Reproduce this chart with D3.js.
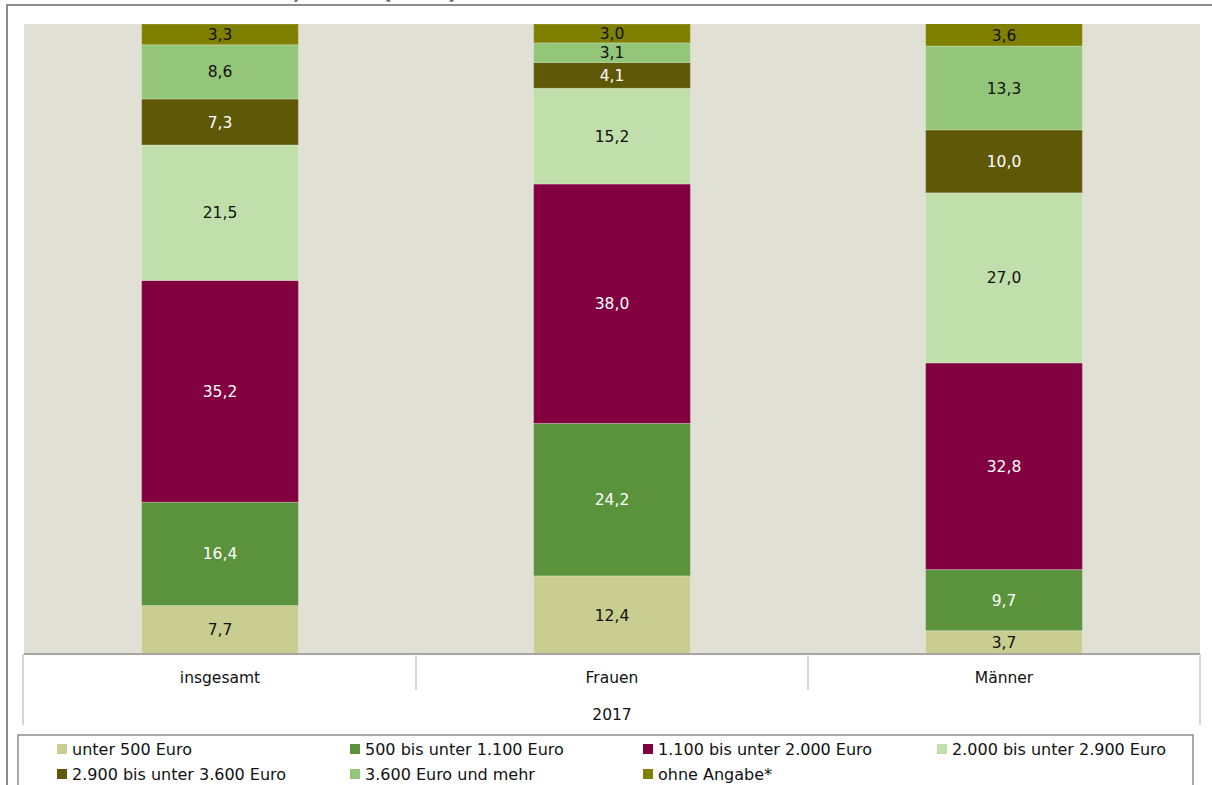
<!DOCTYPE html>
<html>
<head>
<meta charset="utf-8">
<script src="https://cdn.jsdelivr.net/npm/d3@7"></script>
<style>
  html, body { margin: 0; padding: 0; background: #fff; overflow: hidden; }
  svg { display: block; font-family: "DejaVu Sans", Verdana, sans-serif; }
</style>
</head>
<body>
<svg id="chart"></svg>
<script>
const categories = ["insgesamt", "Frauen", "Männer"];
const groupLabel = "2017";
const seriesNames = [
  "unter 500 Euro",
  "500 bis unter 1.100 Euro",
  "1.100 bis unter 2.000 Euro",
  "2.000 bis unter 2.900 Euro",
  "2.900 bis unter 3.600 Euro",
  "3.600 Euro und mehr",
  "ohne Angabe*"
];
// one array per series, in category order
const unter500 = [7.7, 12.4, 3.7];
const bis1100 = [16.4, 24.2, 9.7];
const bis2000 = [35.2, 38.0, 32.8];
const bis2900 = [21.5, 15.2, 27.0];
const bis3600 = [7.3, 4.1, 10.0];
const ab3600 = [8.6, 3.1, 13.3];
const ohneAngabe = [3.3, 3.0, 3.6];
const seriesValues = [unter500, bis1100, bis2000, bis2900, bis3600, ab3600, ohneAngabe];

const colors = ["#c9cd8f", "#5b923c", "#82003f", "#c0dfab", "#5f5907", "#93c678", "#808000"];
const labelColors = ["#111", "#fff", "#fff", "#111", "#fff", "#111", "#111"];

const W = 1212, H = 785;
const margin = { top: 24, left: 24, right: 12, bottom: 131 };
const plotBottom = H - margin.bottom; // 654

const svg = d3.select("#chart").attr("width", W).attr("height", H);

// outer frame
svg.append("rect")
  .attr("x", 7).attr("y", 5).attr("width", W + 20).attr("height", H + 20)
  .attr("fill", "none").attr("stroke", "#8c8c8c").attr("stroke-width", 2);

// title sits mostly above the visible area, as in the reference
svg.append("text")
  .attr("x", 458).attr("y", -1)
  .attr("text-anchor", "end")
  .attr("font-size", 23).attr("font-weight", "bold").attr("fill", "#6e6e6e")
  .text("Persönliches Nettoeinkommen, 2017 (in %)");

const x = d3.scaleBand()
  .domain(categories)
  .range([margin.left, W - margin.right])
  .padding(0);

const y = d3.scaleLinear()
  .domain([0, 100])
  .range([plotBottom, margin.top]);

const barW = x.bandwidth() * 0.4;

// plot background
svg.append("rect")
  .attr("x", margin.left).attr("y", margin.top)
  .attr("width", W - margin.right - margin.left)
  .attr("height", plotBottom - margin.top)
  .attr("fill", "#e0e1d4");

svg.append("clipPath").attr("id", "plotclip")
  .append("rect")
  .attr("x", margin.left).attr("y", margin.top)
  .attr("width", W - margin.right - margin.left)
  .attr("height", plotBottom - margin.top);

// stack data
const table = categories.map((c, i) => {
  const row = { cat: c };
  seriesNames.forEach((s, j) => { row[s] = seriesValues[j][i]; });
  return row;
});
const stacked = d3.stack().keys(seriesNames)(table);

const layers = svg.append("g").attr("clip-path", "url(#plotclip)")
  .selectAll("g.layer")
  .data(stacked)
  .join("g")
  .attr("class", "layer");

layers.each(function (layer, j) {
  const g = d3.select(this);
  g.selectAll("rect")
    .data(layer)
    .join("rect")
    .attr("x", d => x(d.data.cat) + (x.bandwidth() - barW) / 2)
    .attr("y", d => y(d[1]))
    .attr("width", barW)
    .attr("height", d => y(d[0]) - y(d[1]))
    .attr("fill", colors[j])
    .attr("stroke", "rgba(255,255,255,0.25)")
    .attr("stroke-width", 1);

  g.selectAll("text")
    .data(layer)
    .join("text")
    .attr("x", d => x(d.data.cat) + x.bandwidth() / 2)
    .attr("y", d => (y(d[0]) + y(Math.min(d[1], 100))) / 2)
    .attr("dy", "0.36em")
    .attr("text-anchor", "middle")
    .attr("font-size", 15.5)
    .attr("fill", labelColors[j])
    .text(d => d3.format(".1f")(d[1] - d[0]).replace(".", ","));
});

// category axis
const axisColor = "#a6a6a6";
const axis = svg.append("g");
axis.append("line")
  .attr("x1", margin.left).attr("x2", W - margin.right)
  .attr("y1", plotBottom).attr("y2", plotBottom)
  .attr("stroke", axisColor).attr("stroke-width", 2);

const innerTicks = categories.slice(1).map(c => x(c));
axis.selectAll("line.tick")
  .data(innerTicks)
  .join("line")
  .attr("class", "tick")
  .attr("x1", d => d).attr("x2", d => d)
  .attr("y1", plotBottom).attr("y2", plotBottom + 36)
  .attr("stroke", "#c8c8c8").attr("stroke-width", 1.5);

axis.selectAll("line.outer")
  .data([margin.left - 1, W - margin.right])
  .join("line")
  .attr("class", "outer")
  .attr("x1", d => d).attr("x2", d => d)
  .attr("y1", plotBottom).attr("y2", plotBottom + 71)
  .attr("stroke", "#c8c8c8").attr("stroke-width", 1.5);

axis.selectAll("text.cat")
  .data(categories)
  .join("text")
  .attr("class", "cat")
  .attr("x", d => x(d) + x.bandwidth() / 2)
  .attr("y", plotBottom + 29)
  .attr("text-anchor", "middle")
  .attr("font-size", 15.5)
  .attr("fill", "#111")
  .text(d => d);

axis.append("text")
  .attr("x", (margin.left + W - margin.right) / 2)
  .attr("y", plotBottom + 66)
  .attr("text-anchor", "middle")
  .attr("font-size", 15.5)
  .attr("fill", "#111")
  .text(groupLabel);

// legend
svg.append("rect")
  .attr("x", 18).attr("y", 735)
  .attr("width", 1175).attr("height", 80)
  .attr("fill", "#fff").attr("stroke", "#8c8c8c").attr("stroke-width", 1.5);

const legendCols = [57, 350, 643, 937];
const legend = svg.append("g")
  .selectAll("g")
  .data(seriesNames)
  .join("g")
  .attr("transform", (d, i) => `translate(${legendCols[i % 4]},${749 + Math.floor(i / 4) * 25})`);

legend.append("rect")
  .attr("x", 0).attr("y", -5)
  .attr("width", 10).attr("height", 10)
  .attr("fill", (d, i) => colors[i]);

legend.append("text")
  .attr("x", 15).attr("y", 0)
  .attr("dy", "0.36em")
  .attr("font-size", 16)
  .attr("fill", "#111")
  .text(d => d);
</script>
</body>
</html>
